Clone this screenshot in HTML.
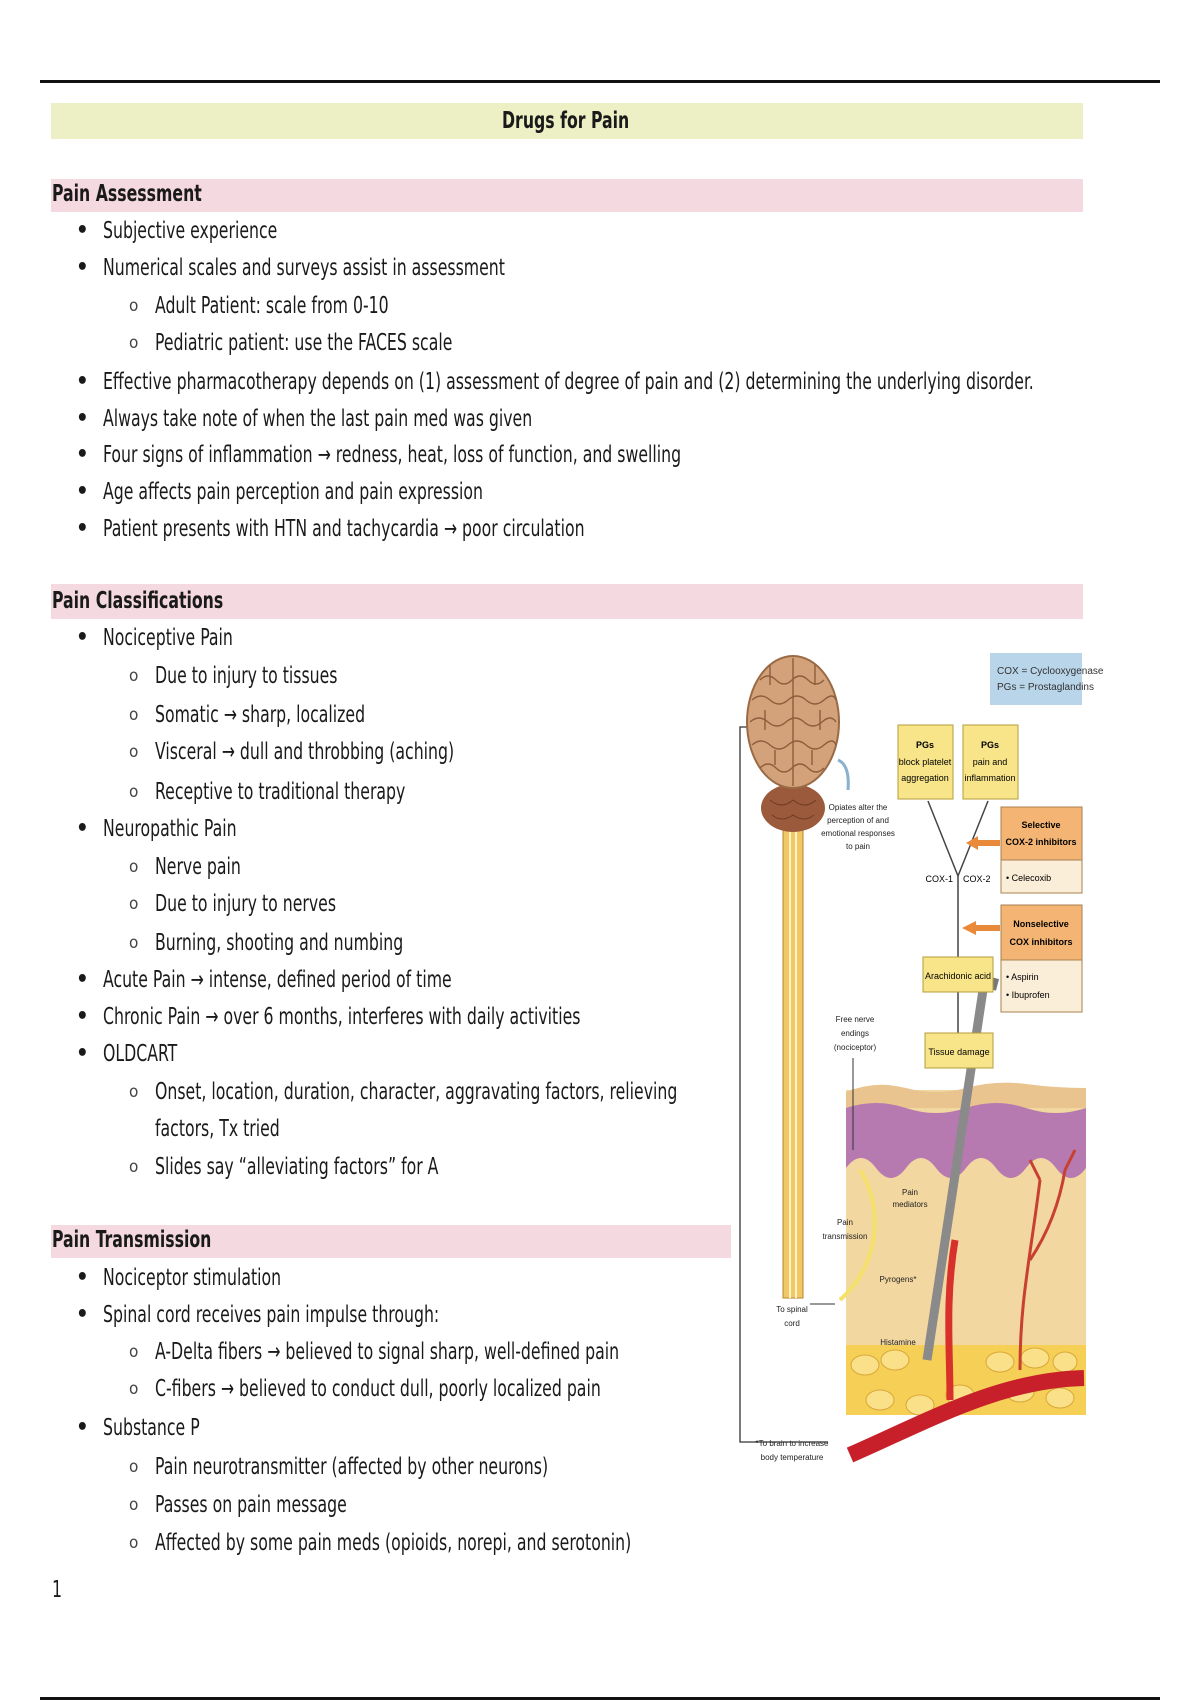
<!DOCTYPE html>
<html><head><meta charset="utf-8">
<style>
html,body{margin:0;padding:0;background:#fff;}
#p{position:relative;width:1200px;height:1700px;overflow:hidden;font-family:"DejaVu Sans Condensed","Liberation Sans Narrow","Liberation Sans",sans-serif;color:#1a1a1a;}
.t{position:absolute;white-space:nowrap;font-size:23px;line-height:28px;transform:scaleX(0.76);transform-origin:left center;}
.b{position:absolute;font-size:22px;line-height:28px;font-weight:bold;}
.b.o{font-size:17px;font-weight:normal;color:#444}
.band{position:absolute;}
.h{font-weight:bold;}
</style></head><body><div id="p">
<div style="position:absolute;left:40px;top:80px;width:1120px;height:3px;background:#111"></div>
<div style="position:absolute;left:40px;top:1697px;width:1120px;height:3px;background:#111"></div>
<div class="band" style="left:51px;top:103px;width:1032px;height:36px;background:#ecf0c4"></div>
<div class="t h" style="left:502px;top:107px">Drugs for Pain</div>
<div class="band" style="left:51px;top:179px;width:1032px;height:33px;background:#f5d9e0"></div>
<div class="t h" style="left:52px;top:180px">Pain Assessment</div>
<div class="band" style="left:51px;top:584px;width:1032px;height:35px;background:#f5d9e0"></div>
<div class="t h" style="left:52px;top:587px">Pain Classifications</div>
<div class="band" style="left:51px;top:1225px;width:680px;height:33px;background:#f5d9e0"></div>
<div class="t h" style="left:52px;top:1226px">Pain Transmission</div>

<div class="b" style="left:76px;top:217px">•</div><div class="t" style="left:103px;top:217px">Subjective experience</div>
<div class="b" style="left:76px;top:254px">•</div><div class="t" style="left:103px;top:254px">Numerical scales and surveys assist in assessment</div>
<div class="b o" style="left:129px;top:292px">o</div><div class="t" style="left:155px;top:292px">Adult Patient: scale from 0-10</div>
<div class="b o" style="left:129px;top:329px">o</div><div class="t" style="left:155px;top:329px">Pediatric patient: use the FACES scale</div>
<div class="b" style="left:76px;top:368px">•</div><div class="t" style="left:103px;top:368px">Effective pharmacotherapy depends on (1) assessment of degree of pain and (2) determining the underlying disorder.</div>
<div class="b" style="left:76px;top:405px">•</div><div class="t" style="left:103px;top:405px">Always take note of when the last pain med was given</div>
<div class="b" style="left:76px;top:441px">•</div><div class="t" style="left:103px;top:441px">Four signs of inflammation → redness, heat, loss of function, and swelling</div>
<div class="b" style="left:76px;top:478px">•</div><div class="t" style="left:103px;top:478px">Age affects pain perception and pain expression</div>
<div class="b" style="left:76px;top:515px">•</div><div class="t" style="left:103px;top:515px">Patient presents with HTN and tachycardia → poor circulation</div>

<div class="b" style="left:76px;top:624px">•</div><div class="t" style="left:103px;top:624px">Nociceptive Pain</div>
<div class="b o" style="left:129px;top:662px">o</div><div class="t" style="left:155px;top:662px">Due to injury to tissues</div>
<div class="b o" style="left:129px;top:701px">o</div><div class="t" style="left:155px;top:701px">Somatic → sharp, localized</div>
<div class="b o" style="left:129px;top:738px">o</div><div class="t" style="left:155px;top:738px">Visceral → dull and throbbing (aching)</div>
<div class="b o" style="left:129px;top:778px">o</div><div class="t" style="left:155px;top:778px">Receptive to traditional therapy</div>
<div class="b" style="left:76px;top:815px">•</div><div class="t" style="left:103px;top:815px">Neuropathic Pain</div>
<div class="b o" style="left:129px;top:853px">o</div><div class="t" style="left:155px;top:853px">Nerve pain</div>
<div class="b o" style="left:129px;top:890px">o</div><div class="t" style="left:155px;top:890px">Due to injury to nerves</div>
<div class="b o" style="left:129px;top:929px">o</div><div class="t" style="left:155px;top:929px">Burning, shooting and numbing</div>
<div class="b" style="left:76px;top:966px">•</div><div class="t" style="left:103px;top:966px">Acute Pain → intense, defined period of time</div>
<div class="b" style="left:76px;top:1003px">•</div><div class="t" style="left:103px;top:1003px">Chronic Pain → over 6 months, interferes with daily activities</div>
<div class="b" style="left:76px;top:1040px">•</div><div class="t" style="left:103px;top:1040px">OLDCART</div>
<div class="b o" style="left:129px;top:1078px">o</div><div class="t" style="left:155px;top:1078px">Onset, location, duration, character, aggravating factors, relieving</div>
<div class="t" style="left:155px;top:1115px">factors, Tx tried</div>
<div class="b o" style="left:129px;top:1153px">o</div><div class="t" style="left:155px;top:1153px">Slides say “alleviating factors” for A</div>

<div class="b" style="left:76px;top:1264px">•</div><div class="t" style="left:103px;top:1264px">Nociceptor stimulation</div>
<div class="b" style="left:76px;top:1301px">•</div><div class="t" style="left:103px;top:1301px">Spinal cord receives pain impulse through:</div>
<div class="b o" style="left:129px;top:1338px">o</div><div class="t" style="left:155px;top:1338px">A-Delta fibers → believed to signal sharp, well-defined pain</div>
<div class="b o" style="left:129px;top:1375px">o</div><div class="t" style="left:155px;top:1375px">C-fibers → believed to conduct dull, poorly localized pain</div>
<div class="b" style="left:76px;top:1414px">•</div><div class="t" style="left:103px;top:1414px">Substance P</div>
<div class="b o" style="left:129px;top:1453px">o</div><div class="t" style="left:155px;top:1453px">Pain neurotransmitter (affected by other neurons)</div>
<div class="b o" style="left:129px;top:1491px">o</div><div class="t" style="left:155px;top:1491px">Passes on pain message</div>
<div class="b o" style="left:129px;top:1529px">o</div><div class="t" style="left:155px;top:1529px">Affected by some pain meds (opioids, norepi, and serotonin)</div>
<div class="t" style="left:52px;top:1576px">1</div>

<svg style="position:absolute;left:0;top:0" width="1200" height="1700" viewBox="0 0 1200 1700" font-family="Liberation Sans Narrow, Liberation Sans, sans-serif">
<polyline points="828,1442 740,1442 740,727 752,727" fill="none" stroke="#333" stroke-width="1.3"/>
<rect x="783" y="825" width="20" height="473" fill="#f2c766" stroke="#b8862a"/>
<line x1="790" y1="825" x2="790" y2="1298" stroke="#fff3c8" stroke-width="2"/>
<line x1="796" y1="825" x2="796" y2="1298" stroke="#fff3c8" stroke-width="2"/>
<ellipse cx="793" cy="808" rx="32" ry="24" fill="#9c5a3c"/>
<path d="M770,800 q12,10 23,0 q12,10 23,0 M772,815 q10,8 21,0 q11,8 21,0" stroke="#6e3a22" fill="none"/>
<ellipse cx="793" cy="722" rx="46" ry="66" fill="#d3a27a" stroke="#9a6a45" stroke-width="2"/>
<g stroke="#8e5e3c" fill="none" stroke-width="1.4">
<path d="M760,680 q8,-8 16,0 t16,0 t16,0 t16,0 M752,700 q9,-8 18,0 t18,0 t18,0 t18,0 t12,0 M750,722 q9,-8 18,0 t18,0 t18,0 t18,0 t14,0 M752,745 q9,-8 18,0 t18,0 t18,0 t18,0 t12,0 M760,768 q8,-8 16,0 t16,0 t16,0 t16,0 M793,658 v128"/>
<path d="M770,665 v20 M815,665 v20 M765,710 v20 M820,710 v20 M775,750 v15 M812,750 v15"/>
</g>
<path d="M838,760 q12,5 10,30" stroke="#8ab0cf" stroke-width="3" fill="none"/>
<rect x="990" y="653" width="92" height="52" fill="#b9d5ea"/>
<text x="997" y="674" font-size="10" fill="#333">COX = Cyclooxygenase</text>
<text x="997" y="690" font-size="10" fill="#333">PGs = Prostaglandins</text>
<rect x="898" y="725" width="55" height="74" fill="#f8e58a" stroke="#b59d3a"/>
<text x="925" y="748" font-size="9" text-anchor="middle" font-weight="bold">PGs</text>
<text x="925" y="765" font-size="9" text-anchor="middle">block platelet</text>
<text x="925" y="781" font-size="9" text-anchor="middle">aggregation</text>
<rect x="963" y="725" width="55" height="74" fill="#f8e58a" stroke="#b59d3a"/>
<text x="990" y="748" font-size="9" text-anchor="middle" font-weight="bold">PGs</text>
<text x="990" y="765" font-size="9" text-anchor="middle">pain and</text>
<text x="990" y="781" font-size="9" text-anchor="middle">inflammation</text>
<polyline points="928,801 958,876 988,801" fill="none" stroke="#444" stroke-width="1.5"/>
<line x1="958" y1="876" x2="958" y2="1035" stroke="#444" stroke-width="1.5"/>
<text x="953" y="882" font-size="9" text-anchor="end">COX-1</text>
<text x="963" y="882" font-size="9">COX-2</text>
<rect x="976" y="840" width="24" height="6" fill="#e98a3a"/>
<polygon points="966,843 978,836 978,850" fill="#e98a3a"/>
<rect x="974" y="925" width="26" height="6" fill="#e98a3a"/>
<polygon points="962,928 976,921 976,935" fill="#e98a3a"/>
<rect x="1001" y="807" width="81" height="53" fill="#f4b574" stroke="#a88050"/>
<rect x="1001" y="860" width="81" height="33" fill="#fbeed8" stroke="#a88050"/>
<text x="1041" y="828" font-size="9" text-anchor="middle" font-weight="bold">Selective</text>
<text x="1041" y="845" font-size="9" text-anchor="middle" font-weight="bold">COX-2 inhibitors</text>
<text x="1006" y="881" font-size="9">• Celecoxib</text>
<rect x="1001" y="905" width="81" height="55" fill="#f4b574" stroke="#a88050"/>
<rect x="1001" y="960" width="81" height="52" fill="#fbeed8" stroke="#a88050"/>
<text x="1041" y="927" font-size="9" text-anchor="middle" font-weight="bold">Nonselective</text>
<text x="1041" y="945" font-size="9" text-anchor="middle" font-weight="bold">COX inhibitors</text>
<text x="1006" y="980" font-size="9">• Aspirin</text>
<text x="1006" y="998" font-size="9">• Ibuprofen</text>
<rect x="846" y="1090" width="240" height="325" fill="#f3d7a0"/>
<path d="M846,1092 q30,-12 60,-4 t60,0 t60,-4 t60,4 v20 H846 Z" fill="#e9c48e"/>
<path d="M846,1108 q30,-10 60,0 t60,0 t60,0 t60,0 v60 q-15,20 -30,0 t-30,0 t-30,0 t-30,0 t-30,0 t-30,0 t-30,0 t-30,0 Z" fill="#b67ab0"/>
<rect x="846" y="1345" width="240" height="70" fill="#f6cf56"/>
<g fill="#fbe08a" stroke="#d8a838"><ellipse cx="865" cy="1365" rx="14" ry="10"/><ellipse cx="895" cy="1360" rx="14" ry="10"/><ellipse cx="1000" cy="1362" rx="14" ry="10"/><ellipse cx="1035" cy="1358" rx="14" ry="10"/><ellipse cx="1065" cy="1362" rx="12" ry="10"/><ellipse cx="960" cy="1395" rx="14" ry="10"/><ellipse cx="1020" cy="1392" rx="14" ry="10"/><ellipse cx="1060" cy="1398" rx="14" ry="10"/><ellipse cx="880" cy="1400" rx="14" ry="10"/><ellipse cx="920" cy="1405" rx="14" ry="10"/></g>
<path d="M850,1455 C930,1420 1000,1380 1084,1378" stroke="#c8202a" stroke-width="16" fill="none"/>
<path d="M950,1400 C950,1350 945,1300 955,1240" stroke="#d8302a" stroke-width="7" fill="none"/>
<path d="M1020,1370 C1020,1300 1030,1260 1040,1180 M1030,1260 C1050,1230 1060,1200 1065,1170 M1040,1180 l-10,-20 M1065,1170 l10,-20" stroke="#c84030" stroke-width="3" fill="none"/>
<line x1="983" y1="990" x2="927" y2="1360" stroke="#8a8a8a" stroke-width="9"/>
<rect x="968" y="975" width="30" height="12" fill="#777" transform="rotate(15 983 981)"/>
<rect x="923" y="957" width="70" height="35" fill="#f8e58a" stroke="#b59d3a"/>
<text x="958" y="979" font-size="9" text-anchor="middle">Arachidonic acid</text>
<rect x="925" y="1033" width="68" height="35" fill="#f8e58a" stroke="#b59d3a"/>
<text x="959" y="1055" font-size="9" text-anchor="middle">Tissue damage</text>
<g font-size="8" text-anchor="middle" fill="#222">
<text x="858" y="810">Opiates alter the</text><text x="858" y="823">perception of and</text><text x="858" y="836">emotional responses</text><text x="858" y="849">to pain</text>
<text x="855" y="1022">Free nerve</text><text x="855" y="1036">endings</text><text x="855" y="1050">(nociceptor)</text>
<text x="845" y="1225">Pain</text><text x="845" y="1239">transmission</text>
<text x="792" y="1312">To spinal</text><text x="792" y="1326">cord</text>
<text x="792" y="1446">*To brain to increase</text><text x="792" y="1460">body temperature</text>
<text x="910" y="1195">Pain</text><text x="910" y="1207">mediators</text>
<text x="898" y="1282">Pyrogens*</text><text x="898" y="1345">Histamine</text>
</g>
<line x1="853" y1="1058" x2="853" y2="1150" stroke="#333"/>
<path d="M860,1170 C880,1200 885,1260 840,1300" stroke="#f4e06a" stroke-width="4" fill="none"/>
<line x1="810" y1="1304" x2="835" y2="1304" stroke="#333"/>
</svg>
</div></body></html>
